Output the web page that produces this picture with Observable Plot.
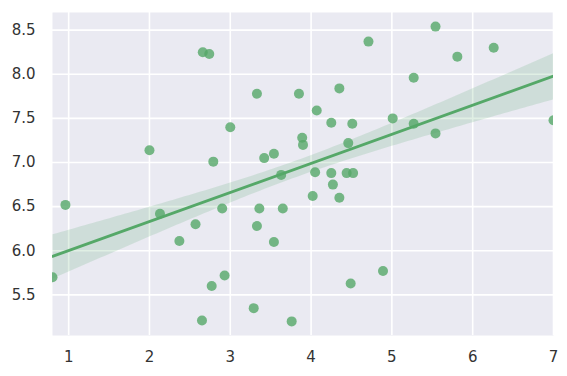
<!DOCTYPE html>
<html>
<head>
<meta charset="utf-8">
<script src="https://cdn.jsdelivr.net/npm/d3@7"></script>
<script src="https://cdn.jsdelivr.net/npm/@observablehq/plot@0.6"></script>
<style>
  html, body { margin: 0; padding: 0; background: #fff; }
  #chart svg { display: block; }
</style>
</head>
<body>
<div id="chart"></div>
<script>
const xs = [0.80, 0.96, 2.00, 2.13, 2.37, 2.57, 2.66, 2.74, 2.65, 2.77,
            2.79, 2.90, 2.93, 3.00, 3.33, 3.33, 3.36, 3.42, 3.54, 3.54,
            3.29, 3.63, 3.65, 3.76, 3.85, 3.89, 3.90, 4.02, 4.07, 4.05,
            4.25, 4.25, 4.27, 4.35, 4.35, 4.46, 4.44, 4.52, 4.51, 4.49,
            4.71, 4.89, 5.01, 5.27, 5.27, 5.54, 5.54, 5.81, 6.26, 7.00];
const ys = [5.70, 6.52, 7.14, 6.42, 6.11, 6.30, 8.25, 8.23, 5.21, 5.60,
            7.01, 6.48, 5.72, 7.40, 7.78, 6.28, 6.48, 7.05, 7.10, 6.10,
            5.35, 6.86, 6.48, 5.20, 7.78, 7.28, 7.20, 6.62, 7.59, 6.89,
            7.45, 6.88, 6.75, 7.84, 6.60, 7.22, 6.88, 6.88, 7.44, 5.63,
            8.37, 5.77, 7.50, 7.96, 7.44, 8.54, 7.33, 8.20, 8.30, 7.48];
const xTicks = [1, 2, 3, 4, 5, 6, 7];
const yTicks = [5.5, 6.0, 6.5, 7.0, 7.5, 8.0, 8.5];

const data = xs.map((x, i) => ({x, y: ys[i]}));
const green = "#55A868";
const font = "DejaVu Sans, sans-serif";

const chart = Plot.plot({
  width: 567,
  height: 376,
  marginLeft: 52,
  marginRight: 14,
  marginTop: 12,
  marginBottom: 41,
  style: {fontFamily: font, background: "#fff"},
  x: {domain: [0.8, 7.0]},
  y: {domain: [5.04, 8.7]},
  marks: [
    Plot.frame({fill: "#EAEAF2", stroke: null}),
    Plot.gridX(xTicks, {stroke: "#fff", strokeOpacity: 1, strokeWidth: 1.6}),
    Plot.gridY(yTicks, {stroke: "#fff", strokeOpacity: 1, strokeWidth: 1.6}),
    Plot.axisX(xTicks, {tickSize: 0, tickPadding: 16, fontSize: 15, fill: "#333", label: null}),
    Plot.axisY(yTicks, {tickSize: 0, tickPadding: 17, fontSize: 15, fill: "#333", label: null, tickFormat: d3.format(".1f")}),
    Plot.dot(data, {x: "x", y: "y", r: 5, fill: green, fillOpacity: 0.8, stroke: null, clip: true}),
    Plot.linearRegressionY(data, {x: "x", y: "y", stroke: green, strokeWidth: 2.8, fill: green, fillOpacity: 0.18, ci: 0.6, clip: true})
  ]
});
document.getElementById("chart").append(chart);
</script>
</body>
</html>
